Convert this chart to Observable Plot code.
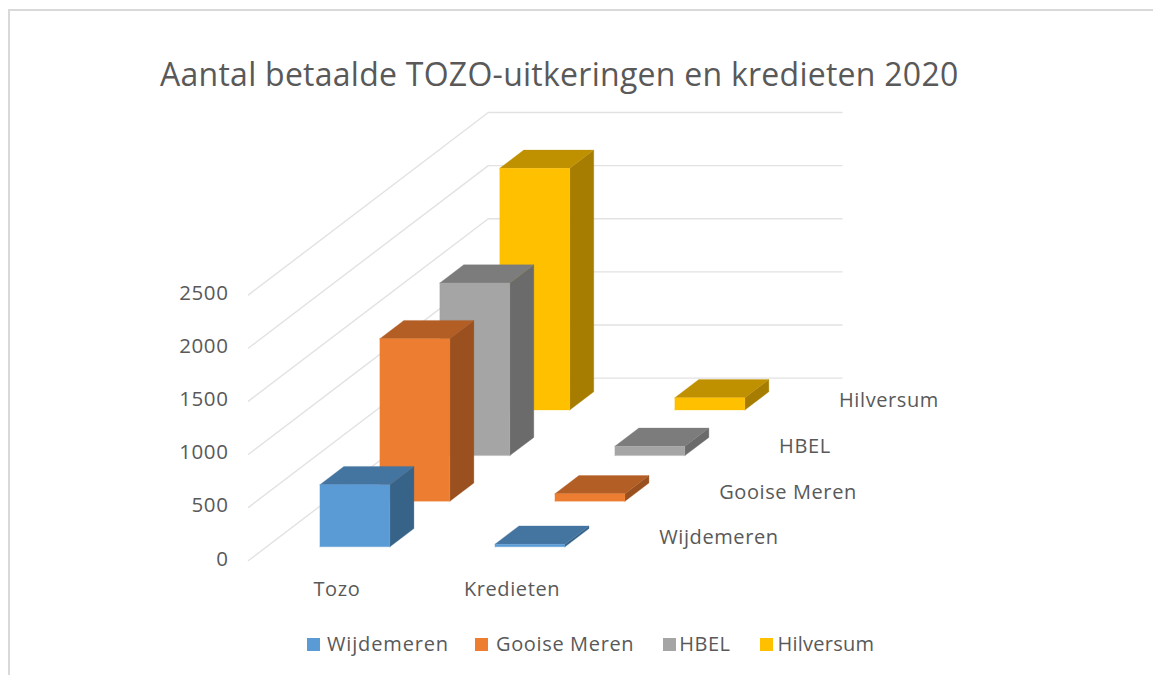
<!DOCTYPE html>
<html><head><meta charset="utf-8">
<script src="https://cdn.jsdelivr.net/npm/d3@7"></script>
<script src="https://cdn.jsdelivr.net/npm/@observablehq/plot@0.6"></script>
<style>
html,body{margin:0;padding:0;background:#fff;overflow:hidden}
#frame{position:absolute;left:8px;top:9px;width:1145px;height:666px;border-top:2px solid #d9d9d9;border-left:2px solid #d9d9d9;font-family:"Open Sans",sans-serif;color:#595959;box-sizing:border-box}
#title{position:absolute;left:150px;top:41px;font-size:32px;line-height:44px;white-space:nowrap;font-weight:400;letter-spacing:.26px}
#chart{position:absolute;left:-10px;top:89px}
#chart svg text{letter-spacing:.6px}
#legend{position:absolute;left:297px;top:619px;display:flex;font-size:20px;line-height:28px;white-space:nowrap}
#legend .item{display:flex;align-items:center}
#legend i{display:block;width:13px;height:13px}
#legend span{display:block}
</style></head><body>
<div id="frame">
  <div id="title"></div>
  <div id="chart"></div>
  <div id="legend"></div>
</div>
<script>
const titleText = "Aantal betaalde TOZO-uitkeringen en kredieten 2020";
const categories = ["Tozo", "Kredieten"];
const series = ["Wijdemeren", "Gooise Meren", "HBEL", "Hilversum"];
const tozoValues = [585, 1530, 1625, 2275];
const kredietenValues = [25, 70, 88, 116];
const yTicks = [0, 500, 1000, 1500, 2000, 2500];
const frontColors = ["#5B9BD5", "#ED7D31", "#A5A5A5", "#FFC000"];
const topColors = ["#4474A0", "#B25E25", "#7C7C7C", "#BF9000"];
const sideColors = ["#386388", "#9A511F", "#6B6B6B", "#A67D00"];

const valuesByCategory = [tozoValues, kredietenValues];

// Oblique 3D projection: category axis u, series depth axis v, value axis w.
const depthX = 60 / 177;
const depthY = 45.5 * 500 / 53;
const px = (u, v) => u + v * depthX;
const py = (v, w) => w + v * depthY;

const nCat = categories.length, nSer = series.length, maxW = 2500;
const catStep = 0.99;

const grid = [];
yTicks.forEach(t => {
  [[0, 0], [0, nSer], [nCat, nSer]].forEach(([u, v]) =>
    grid.push({id: t, x: px(u, v), y: py(v, t)}));
});

const faces = [];
const barU = 0.302, barV = 0.3;
let fid = 0;
function addFace(color, pts) {
  fid++;
  pts.forEach(([u, v, w]) => faces.push({id: fid, color, x: px(u, v), y: py(v, w)}));
}
for (let s = nSer - 1; s >= 0; s--) {
  for (let c = 0; c < nCat; c++) {
    const w = valuesByCategory[c][s];
    const u0 = c * catStep + barU, u1 = c * catStep + 1 - barU, v0 = s + barV, v1 = s + 1 - barV;
    addFace(sideColors[s], [[u1, v0, 0], [u1, v1, 0], [u1, v1, w], [u1, v0, w], [u1, v0, 0]]);
    addFace(topColors[s], [[u0, v0, w], [u1, v0, w], [u1, v1, w], [u0, v1, w], [u0, v0, w]]);
    addFace(frontColors[s], [[u0, v0, 0], [u1, v0, 0], [u1, v0, w], [u0, v0, w], [u0, v0, 0]]);
  }
}

const tickRows = yTicks.map(t => ({t, x: px(0, 0), y: py(0, t)}));
const catRows = categories.map((name, c) => ({name, x: px(c * catStep + 0.5, 0), y: py(0, 0)}));
const serRows = series.map((name, s) => ({name, x: px(nCat, s + 0.5), y: py(s + 0.5, 0)}));

const labelFont = {fontFamily: '"Open Sans",sans-serif', fontSize: 20, fill: "#595959"};

const svgTop = 100, svgH = 520;
const plot = Plot.plot({
  width: 1153, height: svgH,
  margin: 0,
  x: {axis: null, domain: [0, px(nCat, nSer)], range: [248, 841.5]},
  y: {axis: null, domain: [0, py(nSer, maxW)], range: [560 - svgTop, 112 - svgTop]},
  color: {type: "identity"},
  marks: [
    Plot.line(grid, {x: "x", y: "y", z: "id", stroke: "#e2e2e2", strokeWidth: 1.4, curve: "linear"}),
    Plot.line(faces, {x: "x", y: "y", z: "id", fill: "color", stroke: "color", strokeWidth: 0.3, curve: "linear"}),
    Plot.text(tickRows, {x: "x", y: "y", text: d => String(d.t), textAnchor: "end", dx: -20, dy: -1.5, ...labelFont, fontSize: 20.5}),
    Plot.text(catRows, {x: "x", y: "y", text: "name", dy: 29, ...labelFont}),
    Plot.text(serRows, {x: "x", y: "y", text: "name", textAnchor: "start", dx: 27, dy: 0, ...labelFont})
  ]
});
document.getElementById("chart").appendChild(plot);
document.getElementById("title").textContent = titleText;

const legend = document.getElementById("legend");
const gaps = [0, 26, 29, 30];
const swatchGaps = [7, 8, 3, 4];
const legendTracking = [0.85, 0.65, 0.5, 0.25];
series.forEach((name, s) => {
  const item = document.createElement("div");
  item.className = "item";
  item.style.marginLeft = gaps[s] + "px";
  item.style.letterSpacing = legendTracking[s] + "px";
  const sw = document.createElement("i");
  sw.style.background = frontColors[s];
  sw.style.marginRight = swatchGaps[s] + "px";
  const label = document.createElement("span");
  label.textContent = name;
  item.append(sw, label);
  legend.appendChild(item);
});
</script>
</body></html>
